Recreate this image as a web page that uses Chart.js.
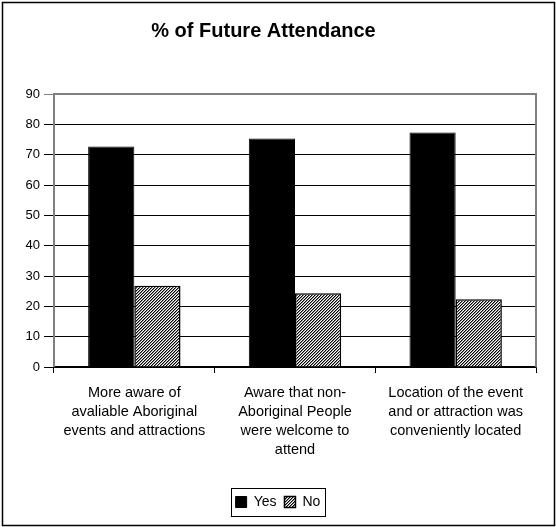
<!DOCTYPE html>
<html>
<head>
<meta charset="utf-8">
<title>% of Future Attendance</title>
<script src="https://cdn.jsdelivr.net/npm/chart.js@4/dist/chart.umd.min.js"></script>
<style>
  html, body { margin: 0; padding: 0; background: #fff; }
  canvas { display: block; }
</style>
</head>
<body>
<canvas id="chart" width="556" height="527"></canvas>
<script>
// Survey categories (multi-line axis labels)
const categories = [
  ["More aware of", "avaliable Aboriginal", "events and attractions"],
  ["Aware that non-", "Aboriginal People", "were welcome to", "attend"],
  ["Location of the event", "and or attraction was", "conveniently located"]
];
const seriesNames = ["Yes", "No"];
const yesValues = [72.7, 75.3, 77.3];
const noValues = [26.8, 24.3, 22.3];
const yTicks = [0, 10, 20, 30, 40, 50, 60, 70, 80, 90];
const titleText = "% of Future Attendance";

const FONT = '"Liberation Sans", Arial, Helvetica, sans-serif';

// Fine diagonal hatch used for the "No" series
function makeHatch() {
  const c = document.createElement('canvas');
  c.width = 3; c.height = 3;
  const g = c.getContext('2d');
  const shades = ['#000', '#8a8a8a', '#fff'];
  for (let y = 0; y < 3; y++) {
    for (let x = 0; x < 3; x++) {
      g.fillStyle = shades[(x + y) % 3];
      g.fillRect(x, y, 1, 1);
    }
  }
  return g.createPattern(c, 'repeat');
}
const ctx = document.getElementById('chart').getContext('2d');
const hatch = makeHatch();

// White background, outer frame and the chart heading
const framePlugin = {
  id: 'frame',
  beforeDraw(chart) {
    const g = chart.ctx;
    g.save();
    g.fillStyle = '#fff';
    g.fillRect(0, 0, chart.width, chart.height);
    g.strokeStyle = '#000';
    g.lineWidth = 1.5;
    g.strokeRect(2.5, 2.5, chart.width - 4, chart.height - 4);
    g.fillStyle = '#000';
    g.font = 'bold 20px ' + FONT;
    g.textAlign = 'center';
    g.textBaseline = 'alphabetic';
    g.fillText(titleText, 263.5, 36.5);
    g.restore();
  }
};

// Grey border on top, left and right of the plot area
const plotBorderPlugin = {
  id: 'plotBorder',
  beforeDatasetsDraw(chart) {
    const a = chart.chartArea;
    const g = chart.ctx;
    g.save();
    g.strokeStyle = '#808080';
    g.lineWidth = 2;
    g.beginPath();
    g.moveTo(a.left, a.bottom);
    g.lineTo(a.left, a.top);
    g.lineTo(a.right, a.top);
    g.lineTo(a.right, a.bottom);
    g.stroke();
    g.restore();
  }
};

// Box around the legend items
const legendBoxPlugin = {
  id: 'legendBox',
  afterDraw(chart) {
    const boxes = chart.legend && chart.legend.legendHitBoxes;
    if (!boxes || !boxes.length) return;
    let l = Infinity, r = -Infinity, t = Infinity, b = -Infinity;
    boxes.forEach(h => {
      l = Math.min(l, h.left); r = Math.max(r, h.left + h.width);
      t = Math.min(t, h.top); b = Math.max(b, h.top + h.height);
    });
    const g = chart.ctx;
    g.save();
    g.strokeStyle = '#000';
    g.lineWidth = 1;
    const x0 = Math.round(l - 5) + 0.5, y0 = Math.round(t - 7) + 0.5;
    const x1 = Math.round(r + 5) + 0.5, y1 = Math.round(b + 7) + 0.5;
    g.strokeRect(x0, y0, x1 - x0, y1 - y0);
    g.restore();
  }
};

new Chart(ctx, {
  type: 'bar',
  data: {
    labels: categories,
    datasets: [
      {
        label: seriesNames[0],
        data: yesValues,
        backgroundColor: '#000',
        borderColor: '#000',
        borderWidth: 1
      },
      {
        label: seriesNames[1],
        data: noValues,
        backgroundColor: hatch,
        borderColor: '#000',
        borderWidth: 1.5
      }
    ]
  },
  options: {
    responsive: false,
    animation: false,
    events: [],
    layout: { padding: { left: 0, right: 0, top: 94, bottom: 8 } },
    datasets: { bar: { categoryPercentage: 0.575, barPercentage: 1 } },
    plugins: {
      title: { display: false },
      legend: {
        display: true,
        position: 'bottom',
        labels: {
          color: '#000',
          font: { family: FONT, size: 14 },
          boxWidth: 11,
          boxHeight: 11,
          padding: 8
        }
      },
      tooltip: { enabled: false }
    },
    scales: {
      x: {
        grid: {
          display: true,
          drawOnChartArea: false,
          offset: true,
          tickLength: 6,
          color: '#000'
        },
        border: { display: true, color: '#000', width: 1.5 },
        ticks: {
          color: '#000',
          font: { family: FONT, size: 14.5, lineHeight: 1.31 },
          padding: 10.5,
          maxRotation: 0,
          minRotation: 0,
          autoSkip: false
        },
        afterFit(scale) { scale.height = 120; }
      },
      y: {
        min: 0,
        max: 90,
        afterBuildTicks(scale) { scale.ticks = yTicks.map(v => ({ value: v })); },
        grid: {
          color: c => (c.tick && c.tick.value === 90 ? '#808080' : '#000'),
          lineWidth: 1,
          tickLength: 10
        },
        border: { display: false },
        ticks: {
          color: '#000',
          font: { family: FONT, size: 13 },
          padding: 4
        },
        afterFit(scale) { scale.width = 54; }
      },
      // empty right-hand margin so the plot ends where the frame layout needs it
      yRight: {
        position: 'right',
        display: true,
        grid: { display: false, drawTicks: false },
        border: { display: false },
        ticks: { display: false },
        afterFit(scale) { scale.width = 20; }
      }
    }
  },
  plugins: [framePlugin, plotBorderPlugin, legendBoxPlugin]
});
</script>
</body>
</html>
